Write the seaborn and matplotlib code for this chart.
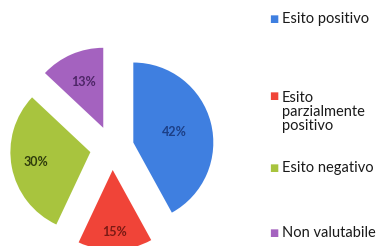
import seaborn as sns
import matplotlib.pyplot as plt
import numpy as np

# Pie data
categories = ['Esito positivo', 'Esito\nparzialmente\npositivo', 'Esito negativo', 'Non valutabile']
values = [42, 15, 30, 13]
colors = ['#3f7fe0', '#f04438', '#a8c43e', '#a462bf']
label_colors = ['#1c3f86', '#7a1a14', '#2f3c0c', '#4d2566']

sns.set_theme(style="white")
plt.rcParams['font.family'] = ['Lato', 'DejaVu Sans']

fig = plt.figure(figsize=(3.84, 2.46), dpi=100)
ax = fig.add_axes([0, 0, 1, 1])

# pie radius 80 px, centre at (112, 98) px from bottom-left
R = 80.0
wedges, texts, autotexts = ax.pie(values, colors=colors, startangle=90, counterclock=False,
                                  explode=[0.275] * len(values), autopct='%d%%',
                                  pctdistance=0.65, radius=1.0,
                                  wedgeprops=dict(linewidth=0),
                                  textprops=dict(fontsize=9, fontweight='bold'))
# label distance inside each slice (fraction of radius)
label_dist = [0.53, 0.78, 0.69, 0.62]
for w, t, c, d in zip(wedges, autotexts, label_colors, label_dist):
    t.set_color(c)
    ang = np.deg2rad((w.theta1 + w.theta2) / 2)
    cx, cy = w.center
    t.set_position((cx + d * np.cos(ang), cy + d * np.sin(ang)))
ax.set_xlim(-112 / R, (384 - 112) / R)
ax.set_ylim(-98 / R, (246 - 98) / R)
ax.set_aspect('equal')
ax.axis('off')

# legend drawn at the right side
legend_y = [19, 112, 168, 233]
for lab, c, y in zip(categories, colors, legend_y):
    first_line = y - (16 if '\n' in lab else 0)
    fig.text(274 / 384, 1 - first_line / 246, '■', color=c, fontsize=7, va='center', ha='center',
             family=['DejaVu Sans'])
    fig.text(282 / 384, 1 - y / 246, lab, color='#1a1a1a', fontsize=10.5, va='center', ha='left',
             linespacing=1.0)

plt.savefig('out.png', dpi=100)
